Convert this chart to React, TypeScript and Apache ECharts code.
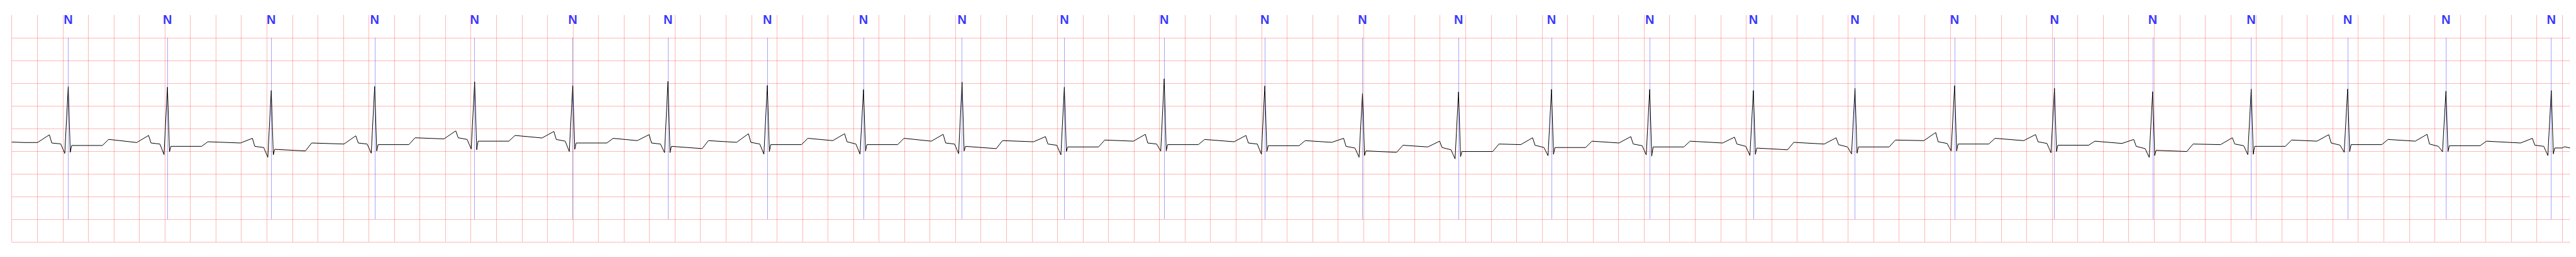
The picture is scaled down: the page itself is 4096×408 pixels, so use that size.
import React, { useEffect, useRef } from "react";
import * as echarts from "echarts";

// ---- Data (time in s, amplitude in mV) ----
// R-peak / annotation times of each beat
const BEAT_TIMES = [
  0.443, 1.221, 2.035, 2.846, 3.63, 4.399, 5.146, 5.925, 6.679, 7.452, 8.254, 9.037, 9.826,
  10.592, 11.345, 12.074, 12.844, 13.657, 14.454, 15.235, 16.018, 16.788, 17.561, 18.317, 19.088, 19.914,
];
// beat annotation symbols
const BEAT_LABELS = [
  "N", "N", "N", "N", "N", "N", "N", "N", "N", "N", "N", "N", "N",
  "N", "N", "N", "N", "N", "N", "N", "N", "N", "N", "N", "N", "N",
];
// R peak amplitude
const R_AMP = [
  1.42, 1.41, 1.336, 1.427, 1.528, 1.44, 1.538, 1.449, 1.356, 1.52, 1.41, 1.596, 1.437,
  1.268, 1.306, 1.361, 1.361, 1.336, 1.386, 1.444, 1.386, 1.31, 1.369, 1.369, 1.323, 1.336,
];
// Q trough
const Q_AMP = [
  -0.05, -0.076, -0.134, -0.045, 0.048, -0.008, -0.033, -0.066, -0.066, -0.055, -0.083, 0.0, -0.066,
  -0.134, -0.17, -0.1, -0.083, -0.096, -0.061, 0.005, -0.035, -0.136, -0.076, -0.025, -0.015, -0.096,
];
// S trough
const S_AMP = [
  -0.025, -0.015, -0.083, 0.005, 0.03, 0.04, -0.033, -0.008, 0.005, 0.005, -0.008, 0.005, -0.008,
  -0.096, -0.12, -0.07, -0.109, -0.07, -0.045, 0.005, -0.008, -0.096, -0.07, -0.008, -0.01, -0.06,
];
// level where the P wave starts (end of preceding T plateau)
const P_START = [
  0.19, 0.19, 0.18, 0.157, 0.27, 0.29, 0.232, 0.194, 0.232, 0.22, 0.207, 0.22, 0.207,
  0.194, 0.093, 0.144, 0.18, 0.18, 0.157, 0.232, 0.232, 0.17, 0.144, 0.22, 0.22, 0.18,
];
// P wave peak
const P_PEAK = [
  0.36, 0.346, 0.283, 0.338, 0.447, 0.434, 0.364, 0.384, 0.384, 0.371, 0.32, 0.371, 0.346,
  0.283, 0.22, 0.295, 0.32, 0.308, 0.295, 0.41, 0.366, 0.258, 0.295, 0.364, 0.371, 0.283,
];
// level right after the P wave drops
const P_DROP = [
  0.18, 0.18, 0.106, 0.18, 0.295, 0.258, 0.18, 0.194, 0.207, 0.18, 0.157, 0.18, 0.18,
  0.106, 0.08, 0.13, 0.157, 0.157, 0.144, 0.207, 0.207, 0.106, 0.157, 0.18, 0.157, 0.131,
];
// PR segment level just before Q
const PR_LEVEL = [
  0.16, 0.157, 0.08, 0.157, 0.258, 0.22, 0.157, 0.157, 0.157, 0.157, 0.13, 0.157, 0.157,
  0.068, 0.03, 0.08, 0.12, 0.106, 0.093, 0.17, 0.17, 0.056, 0.12, 0.131, 0.106, 0.106,
];
// ST level after the beat
const ST_LEVEL = [
  0.125, 0.106, 0.04, 0.144, 0.22, 0.18, 0.106, 0.144, 0.144, 0.106, 0.093, 0.144, 0.12,
  0.005, -0.008, 0.08, 0.093, 0.068, 0.093, 0.157, 0.131, 0.018, 0.106, 0.144, 0.12, 0.07,
];
// level at the onset of the T wave
const ST_END = [
  0.125, 0.106, 0.005, 0.144, 0.22, 0.18, 0.056, 0.144, 0.144, 0.056, 0.093, 0.144, 0.12,
  -0.025, -0.008, 0.08, 0.093, 0.03, 0.093, 0.157, 0.131, -0.008, 0.106, 0.144, 0.12,
];
// T wave top
const T_PEAK = [
  0.26, 0.207, 0.18, 0.295, 0.346, 0.283, 0.232, 0.283, 0.283, 0.232, 0.245, 0.258, 0.232,
  0.13, 0.157, 0.22, 0.22, 0.194, 0.245, 0.283, 0.22, 0.157, 0.245, 0.258, 0.22,
];
const TRACE_START: [number, number][] = [[0, 0.2], [0.1, 0.19]];
const TRACE_END: [number, number][] = [[20.0, 0.07], [20.018, 0.098], [20.061, 0.07]];

// timing of the wave landmarks relative to the R peak (s)
const OFF_P_START = -0.241;
const OFF_P_PEAK = -0.148;
const OFF_P_DROP = -0.129;
const OFF_PR = -0.059;
const OFF_Q = -0.027;
const OFF_S = 0.016;
const OFF_ST = 0.027;
const OFF_ST_END = 0.268;
const OFF_T_PEAK = 0.317;

// axis ranges
const X_MIN = 0;
const X_MAX = 20.061;
const X_STEP = 0.2;
const Y_MIN = -2;
const Y_MAX = 3;
const Y_STEP = 0.5;
const ANN_TOP = 2.5;
const ANN_BOTTOM = -1.5;
const LABEL_Y = 2.897;

const S = 0.544;

function buildTrace(): [number, number][] {
  const pts: [number, number][] = [...TRACE_START];
  BEAT_TIMES.forEach((r, i) => {
    pts.push([r + OFF_P_START, P_START[i]]);
    pts.push([r + OFF_P_PEAK, P_PEAK[i]]);
    pts.push([r + OFF_P_DROP, P_DROP[i]]);
    pts.push([r + OFF_PR, PR_LEVEL[i]]);
    pts.push([r + OFF_Q, Q_AMP[i]]);
    pts.push([r, R_AMP[i]]);
    pts.push([r + OFF_S, S_AMP[i]]);
    pts.push([r + OFF_ST, ST_LEVEL[i]]);
    if (i < T_PEAK.length) {
      pts.push([r + OFF_ST_END, ST_END[i]]);
      pts.push([r + OFF_T_PEAK, T_PEAK[i]]);
    }
  });
  TRACE_END.forEach((p) => pts.push(p));
  return pts;
}

export default function App() {
  const ref = useRef<HTMLDivElement>(null);
  useEffect(() => {
    if (!ref.current) return;
    const chart = echarts.init(ref.current, undefined, { renderer: "svg" });
    const gridColor = "rgba(255,0,0,0.28)";
    chart.setOption({
      animation: false,
      backgroundColor: "#ffffff",
      grid: {
        left: 34.3 * S,
        top: 43.8 * S,
        width: (7512 - 34.3) * S,
        height: (706 - 43.8) * S,
        containLabel: false,
      },
      xAxis: {
        type: "value",
        min: X_MIN,
        max: X_MAX,
        interval: X_STEP,
        axisLine: { show: false },
        axisTick: { show: false },
        axisLabel: { show: false },
        splitLine: {
          show: true,
          showMaxLine: false,
          lineStyle: { color: gridColor, width: 1 },
        },
      },
      yAxis: {
        type: "value",
        min: Y_MIN,
        max: Y_MAX,
        interval: Y_STEP,
        axisLine: { show: false },
        axisTick: { show: false },
        axisLabel: { show: false },
        splitLine: {
          show: true,
          showMaxLine: false,
          lineStyle: { color: gridColor, width: 1 },
        },
      },
      series: [
        {
          name: "ECG",
          type: "line",
          data: buildTrace(),
          showSymbol: false,
          symbol: "none",
          silent: true,
          z: 3,
          lineStyle: { color: "#000000", width: 1 },
          markLine: {
            silent: true,
            symbol: ["none", "none"],
            animation: false,
            z: 2,
            label: { show: false },
            lineStyle: { color: "rgba(0,0,255,0.5)", width: 0.7, type: "solid" },
            data: BEAT_TIMES.map((t) => [
              { coord: [t, ANN_TOP] },
              { coord: [t, ANN_BOTTOM] },
            ]),
          },
        },
        {
          name: "Annotations",
          type: "scatter",
          silent: true,
          symbolSize: 1,
          itemStyle: { color: "rgba(0,0,0,0)" },
          z: 4,
          data: BEAT_TIMES.map((t) => [t, LABEL_Y]),
          label: {
            show: true,
            position: "inside",
            formatter: (p: any) => BEAT_LABELS[p.dataIndex],
            color: "#0000ff",
            fontWeight: "bold",
            fontSize: 20,
            fontFamily: '"Liberation Sans", Arial, sans-serif',
            align: "center",
            verticalAlign: "middle",
          },
        },
      ],
    });
    return () => chart.dispose();
  }, []);
  return (
    <div
      ref={ref}
      style={{ position: "fixed", left: 0, top: 0, width: 4096, height: 408, background: "#fff" }}
    />
  );
}
